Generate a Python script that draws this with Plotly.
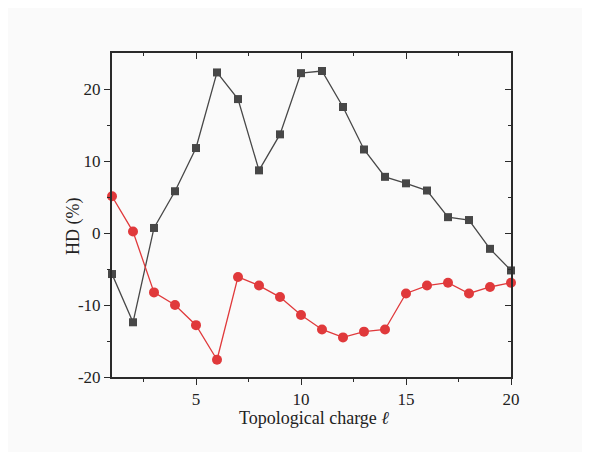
import plotly.graph_objects as go

charge = list(range(1, 21))
hd_black = [-5.7, -12.4, 0.7, 5.8, 11.8, 22.3, 18.6, 8.7, 13.7, 22.2,
            22.5, 17.5, 11.6, 7.8, 6.9, 5.9, 2.2, 1.8, -2.2, -5.2]
hd_red = [5.1, 0.2, -8.25, -10.0, -12.8, -17.6, -6.1, -7.3, -8.9, -11.4,
          -13.4, -14.5, -13.7, -13.4, -8.4, -7.3, -6.9, -8.4, -7.5, -6.9]
x_ticks = [5, 10, 15, 20]
x_minor = [2.5, 7.5, 12.5, 17.5]
y_ticks = [-20, -10, 0, 10, 20]
y_tick_text = ["-20", "-10", "0", "10", "20"]
y_minor = [-15, -5, 5, 15]
x_range = [1, 20]
y_range = [-20, 25]

font_family = "Liberation Serif"
axis_color = "#2a2a2a"

fig = go.Figure()
fig.add_trace(go.Scatter(
    x=charge, y=hd_black, mode="lines+markers",
    line=dict(color="#474747", width=1.3),
    marker=dict(symbol="square", size=8, color="#474747"),
    cliponaxis=False, showlegend=False))
fig.add_trace(go.Scatter(
    x=charge, y=hd_red, mode="lines+markers",
    line=dict(color="#e0393b", width=1.3),
    marker=dict(symbol="circle", size=10, color="#e0393b"),
    cliponaxis=False, showlegend=False))
# empty trace to activate the mirrored (top/right) axes
fig.add_trace(go.Scatter(x=[], y=[], xaxis="x2", yaxis="y2", showlegend=False))

tick_font = dict(family=font_family, size=17, color="#222")

def base(ticks):
    return dict(showline=True, linecolor=axis_color, linewidth=2,
                ticks=ticks, ticklen=6, tickwidth=1.3, tickcolor=axis_color,
                showgrid=False, zeroline=False, tickfont=tick_font)

fig.update_layout(
    xaxis=dict(range=x_range, tickvals=x_ticks,
               minor=dict(tickvals=x_minor, ticks="outside", ticklen=3,
                          tickwidth=1.2, tickcolor=axis_color),
               **base("outside")),
    yaxis=dict(range=y_range, tickvals=y_ticks, ticktext=y_tick_text,
               minor=dict(tickvals=y_minor, ticks="outside", ticklen=3,
                          tickwidth=1.2, tickcolor=axis_color),
               **base("outside")),
    xaxis2=dict(range=x_range, tickvals=x_ticks, showticklabels=False,
                overlaying="x", side="top", anchor="y",
                minor=dict(tickvals=x_minor, ticks="inside", ticklen=3,
                           tickwidth=1.2, tickcolor=axis_color),
                **base("inside")),
    yaxis2=dict(range=y_range, tickvals=y_ticks, showticklabels=False,
                overlaying="y", side="right", anchor="x",
                minor=dict(tickvals=y_minor, ticks="inside", ticklen=3,
                           tickwidth=1.2, tickcolor=axis_color),
                **base("inside")),
)

fig.add_annotation(text="Topological charge <i>ℓ</i>", xref="paper", yref="paper",
                   x=0.506, y=-0.125, xanchor="center", yanchor="middle", showarrow=False,
                   font=dict(family=font_family, size=18, color="#222"))
fig.add_annotation(text="HD (%)", xref="paper", yref="paper",
                   x=-0.095, y=0.463, xanchor="center", yanchor="middle", showarrow=False,
                   textangle=-90, font=dict(family=font_family, size=18, color="#222"))

fig.update_layout(
    width=590, height=452,
    margin=dict(l=104, r=87, t=45, b=83),
    paper_bgcolor="#fafafa", plot_bgcolor="#fafafa",
)

fig.write_html("out.html")
